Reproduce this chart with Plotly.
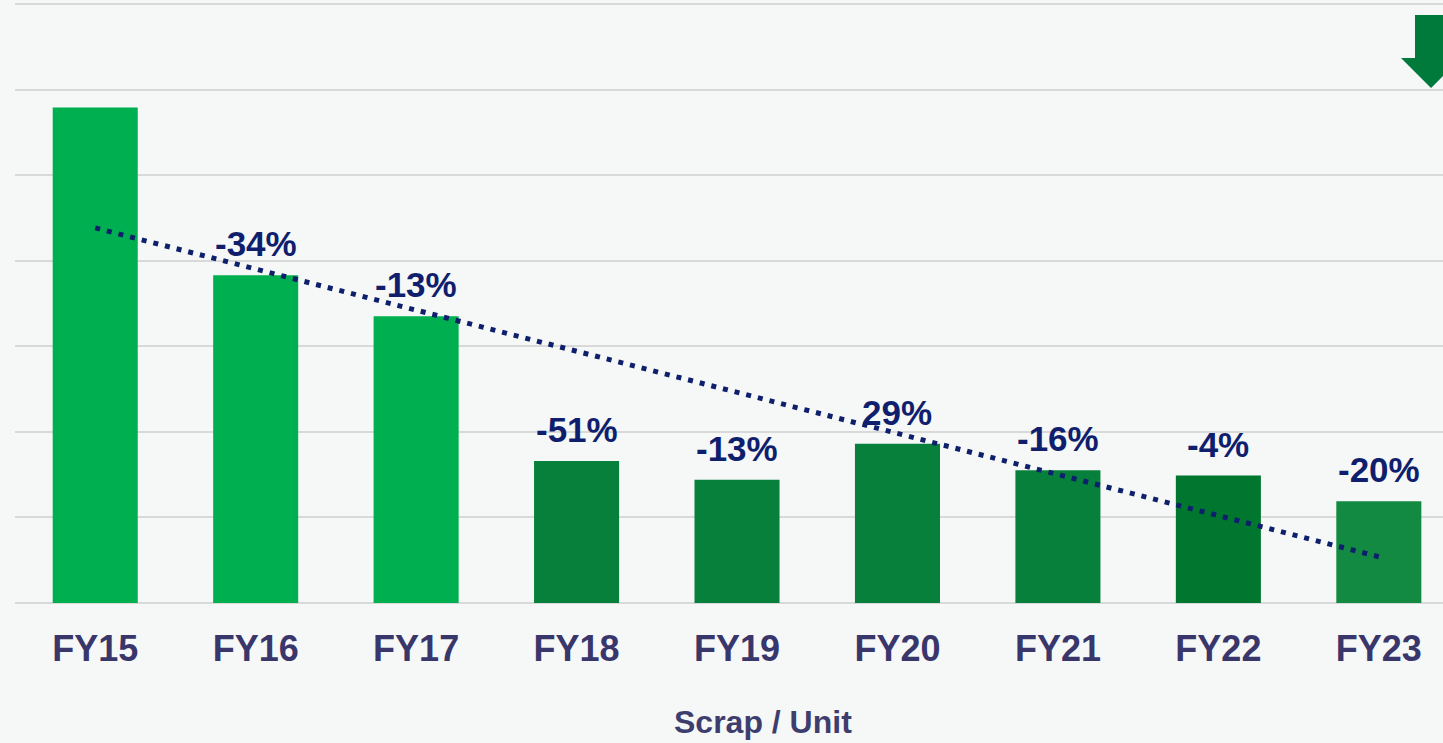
import numpy as np
import plotly.graph_objects as go

categories = ["FY15", "FY16", "FY17", "FY18", "FY19", "FY20", "FY21", "FY22", "FY23"]
scrap_per_unit = [5.79, 3.83, 3.35, 1.66, 1.44, 1.86, 1.55, 1.49, 1.19]
change_labels = ["", "-34%", "-13%", "-51%", "-13%", "29%", "-16%", "-4%", "-20%"]
bar_colors = ["#00B050", "#00B050", "#00B050", "#07803C", "#07803C", "#07803C",
              "#07803C", "#00762F", "#138A41"]
axis_title = "Scrap / Unit"

FONT = "Liberation Sans, Arial, sans-serif"

xi = np.arange(len(categories))
slope, intercept = np.polyfit(xi, scrap_per_unit, 1)
trend = slope * xi + intercept

fig = go.Figure()
fig.add_trace(go.Bar(
    x=categories, y=scrap_per_unit, marker=dict(color=bar_colors, line=dict(width=0)),
    hoverinfo="x+y", showlegend=False,
))
fig.add_trace(go.Scatter(
    x=categories, y=trend, mode="lines",
    line=dict(color="#0E1F6B", width=5, dash="5px,7px"),
    hoverinfo="skip", showlegend=False,
))

for c, v, t in zip(categories, scrap_per_unit, change_labels):
    if t:
        fig.add_annotation(x=c, y=v, text="<b>" + t + "</b>", showarrow=False, yanchor="bottom",
                           yshift=10, font=dict(family=FONT, size=35, color="#0F1F6E"))

# axis title (offset to the right of centre, as in the original)
fig.add_annotation(x=(763 - 15) / 1428, y=(603 - 722) / 600, xref="paper", yref="paper",
                   text="<b>" + axis_title + "</b>", showarrow=False,
                   xanchor="center", yanchor="middle",
                   font=dict(family=FONT, size=32, color="#3E3E6E"))

# down arrow (top-right decoration)
def px2paper(px, py):
    return (px - 15) / 1428, (603 - py) / 600

pts = [(1415, 15), (1447, 15), (1447, 58), (1461, 58), (1431, 88), (1401, 58), (1415, 58)]
path = "M " + " L ".join(f"{px2paper(a, b)[0]:.5f},{px2paper(a, b)[1]:.5f}" for a, b in pts) + " Z"
fig.add_shape(type="path", path=path, xref="paper", yref="paper",
              fillcolor="#007A3A", line=dict(width=0))

fig.update_layout(
    width=1443, height=743,
    margin=dict(l=15, r=0, t=3, b=140),
    paper_bgcolor="#F6F7F7", plot_bgcolor="#F6F7F7",
    bargap=0.47,
    font=dict(family=FONT),
    xaxis=dict(range=[-0.5, 8.4], showgrid=False, showline=False, zeroline=False,
               ticks="outside", ticklen=14, tickcolor="rgba(0,0,0,0)",
               tickvals=categories, ticktext=["<b>" + c + "</b>" for c in categories],
               tickfont=dict(family=FONT, size=36, color="#38366A")),
    yaxis=dict(range=[0, 7.012], dtick=1, showticklabels=False, showgrid=True,
               gridcolor="#D9D9D9", gridwidth=2, zeroline=True,
               zerolinecolor="#D9D9D9", zerolinewidth=2),
)

fig.write_html("out.html", config={"displayModeBar": False},
               post_script="document.body.style.margin='0';")
